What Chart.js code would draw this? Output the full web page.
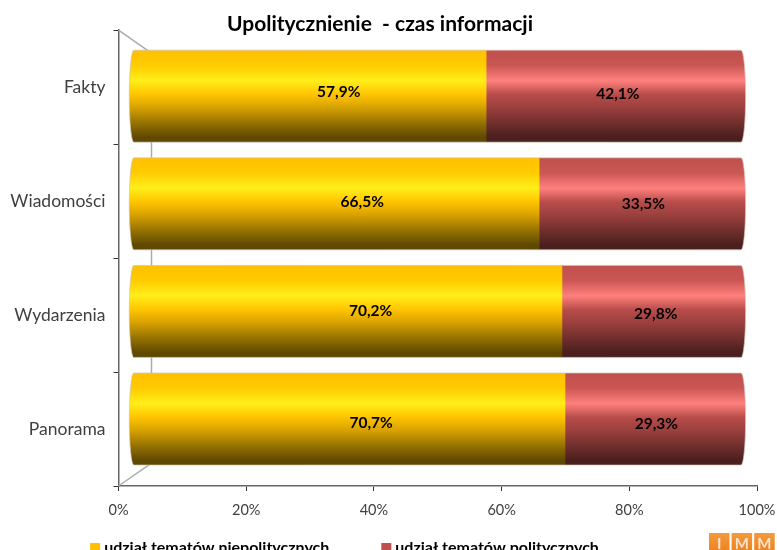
<!DOCTYPE html>
<html>
<head>
<meta charset="utf-8">
<script src="https://cdn.jsdelivr.net/npm/chart.js@4"></script>
<style>
  html, body { margin: 0; padding: 0; background: #fff; overflow: hidden; }
  canvas { display: block; }
</style>
</head>
<body>
<canvas id="chart" width="777" height="550"></canvas>
<script>
const categories = ['Fakty', 'Wiadomości', 'Wydarzenia', 'Panorama'];
const seriesNames = ['udział tematów niepolitycznych', 'udział tematów politycznych'];
const nonPolitical = [57.9, 66.5, 70.2, 70.7];
const political = [42.1, 33.5, 29.8, 29.3];
const percentTicks = [0, 20, 40, 60, 80, 100];
const legendColors = ['#FFC000', '#C0504D'];
const logoLetters = ['I', 'M', 'M'];

const FONT = 'Lato, sans-serif';
const BAR_HEIGHT = 92;

// label nudges, the original labels do not sit on the middle of the segments
const labelShiftX = [[31, 28, 25, 24], [2, 1, 2, 1]];
const labelShiftY = [[-4, -2, 0, 4], [-2, 0, 3, 5]];

const yellowStops = [[0, '#FFC000'], [0.16, '#FFCB00'], [0.33, '#FFEE1A'], [0.48, '#FFC400'],
  [0.62, '#D8A200'], [0.8, '#927000'], [0.95, '#5F4800'], [1, '#5F4800']];
const redStops = [[0, '#C0504D'], [0.16, '#C95653'], [0.33, '#FF807C'], [0.48, '#B84D4A'],
  [0.62, '#9C403E'], [0.8, '#6E2E2C'], [0.95, '#4A1F1E'], [1, '#4A1F1E']];

function barGradient(context, stops) {
  const chart = context.chart;
  const yScale = chart.scales.yBars;
  if (!yScale || context.dataIndex === undefined) return stops[0][1];
  const mid = yScale.getPixelForValue(context.dataIndex);
  const g = chart.ctx.createLinearGradient(0, mid - BAR_HEIGHT / 2, 0, mid + BAR_HEIGHT / 2);
  stops.forEach(s => g.addColorStop(s[0], s[1]));
  return g;
}

function cylinderPath(ctx, left, right, mid) {
  const r = 4.5, h = BAR_HEIGHT / 2;
  ctx.moveTo(left + r, mid - h);
  ctx.lineTo(right - r, mid - h);
  ctx.ellipse(right - r, mid, r, h, 0, -Math.PI / 2, Math.PI / 2);
  ctx.lineTo(left + r, mid + h);
  ctx.ellipse(left + r, mid, r, h, 0, Math.PI / 2, Math.PI * 1.5);
  ctx.closePath();
}

function allCylinders(chart) {
  const ctx = chart.ctx, xs = chart.scales.xBars, ys = chart.scales.yBars;
  ctx.beginPath();
  categories.forEach((c, i) => {
    cylinderPath(ctx, xs.getPixelForValue(0), xs.getPixelForValue(100), ys.getPixelForValue(i));
  });
}

const cylinderPlugin = {
  id: 'cylinders',
  afterLayout(chart) {
    // title and legend are not centred on the canvas in the original
    chart.titleBlock.left += 1.5;
    chart.titleBlock.right += 1.5;
    chart.legend.left -= 32;
    chart.legend.right -= 32;
    chart.legend.top = 484;
    chart.legend.bottom = 560;
  },
  beforeDatasetsDraw(chart) {
    const ctx = chart.ctx, a = chart.chartArea;
    ctx.save();
    // back wall of the 3d frame
    ctx.strokeStyle = '#ababab';
    ctx.lineWidth = 1.5;
    ctx.beginPath();
    ctx.moveTo(a.left, a.top);
    ctx.lineTo(a.left + 33, a.top + 23);
    ctx.lineTo(a.left + 33, a.bottom - 23);
    ctx.lineTo(a.left, a.bottom);
    ctx.stroke();
    allCylinders(chart);
    ctx.clip();
  },
  afterDatasetsDraw(chart) {
    const ctx = chart.ctx;
    ctx.restore();
    ctx.save();
    ctx.strokeStyle = 'rgba(205,195,180,0.7)';
    ctx.lineWidth = 1;
    allCylinders(chart);
    ctx.stroke();
    ctx.fillStyle = '#000';
    ctx.font = 'bold 15.5px ' + FONT;
    ctx.textAlign = 'center';
    ctx.textBaseline = 'middle';
    chart.data.datasets.forEach((ds, d) => {
      chart.getDatasetMeta(d).data.forEach((bar, i) => {
        const text = ds.data[i].x.toFixed(1).replace('.', ',') + '%';
        ctx.fillText(text, (bar.x + bar.base) / 2 + labelShiftX[d][i], bar.y + labelShiftY[d][i]);
      });
    });
    ctx.restore();
  },
  afterDraw(chart) {
    // IMM logo, bottom right
    const ctx = chart.ctx;
    ctx.save();
    ctx.font = 'bold 15px ' + FONT;
    ctx.textAlign = 'center';
    ctx.textBaseline = 'middle';
    logoLetters.forEach((letter, i) => {
      const x = 709 + i * 22.6;
      const g = ctx.createLinearGradient(0, 533, 0, 550);
      g.addColorStop(0, '#F59A3C');
      g.addColorStop(1, '#EE8420');
      ctx.fillStyle = g;
      ctx.fillRect(x, 533, 20.5, 17);
      ctx.fillStyle = '#FBE3CC';
      ctx.fillText(letter, x + 10.2, 544);
    });
    ctx.restore();
  }
};

new Chart(document.getElementById('chart'), {
  type: 'bar',
  plugins: [cylinderPlugin],
  data: {
    datasets: [
      {
        label: seriesNames[0],
        data: nonPolitical.map((v, i) => ({ x: v, y: i })),
        backgroundColor: c => barGradient(c, yellowStops),
        xAxisID: 'xBars', yAxisID: 'yBars', barThickness: BAR_HEIGHT, borderWidth: 0
      },
      {
        label: seriesNames[1],
        data: political.map((v, i) => ({ x: v, y: i })),
        backgroundColor: c => barGradient(c, redStops),
        xAxisID: 'xBars', yAxisID: 'yBars', barThickness: BAR_HEIGHT, borderWidth: 0
      }
    ]
  },
  options: {
    indexAxis: 'y',
    responsive: false,
    animation: false,
    devicePixelRatio: 1,
    layout: { padding: { top: 0, right: 20, bottom: -52, left: 0 } },
    scales: {
      // visible frame, the bars sit a little inside it on their own hidden axes
      x: {
        type: 'linear', position: 'bottom', min: 0, max: 100,
        afterBuildTicks: s => { s.ticks = percentTicks.map(v => ({ value: v })); },
        afterFit: s => { s.height = 34; s.paddingLeft = 0; s.paddingRight = 0; },
        border: { color: '#666', width: 1.5 },
        grid: { display: true, drawOnChartArea: false, color: '#333', tickLength: 5 },
        ticks: { callback: v => v + '%', color: '#404040', font: { family: FONT, size: 14.5 }, padding: 11, maxRotation: 0 }
      },
      y: {
        type: 'category', position: 'left', labels: categories,
        afterFit: s => { s.width = 118.5; },
        border: { color: '#666', width: 1.5 },
        grid: { display: true, drawOnChartArea: false, color: '#333', tickLength: 5 },
        ticks: { color: '#404040', font: { family: FONT, size: 17.5 }, padding: 8 }
      },
      xBars: { type: 'linear', axis: 'x', display: false, stacked: true, min: -1.75, max: 101.85 },
      yBars: { type: 'linear', axis: 'y', display: false, stacked: true, offset: false, min: -0.613, max: 3.622, reverse: true }
    },
    plugins: {
      tooltip: { enabled: false },
      title: {
        display: true,
        text: 'Upolitycznienie  - czas informacji',
        color: '#000',
        font: { family: FONT, size: 21, weight: 'bold' },
        padding: { top: 12, bottom: -7 }
      },
      legend: {
        display: true,
        position: 'bottom',
        labels: {
          // thin box with a thick outline, keeps the text close to the square
          boxWidth: 2, boxHeight: 2, padding: 56, color: '#000',
          font: { family: FONT, size: 16, weight: 'bold' },
          generateLabels: chart => chart.data.datasets.map((ds, i) => ({
            text: ds.label, fillStyle: legendColors[i], strokeStyle: legendColors[i], lineWidth: 8, lineJoin: 'miter', datasetIndex: i
          }))
        }
      }
    }
  }
});
</script>
</body>
</html>
